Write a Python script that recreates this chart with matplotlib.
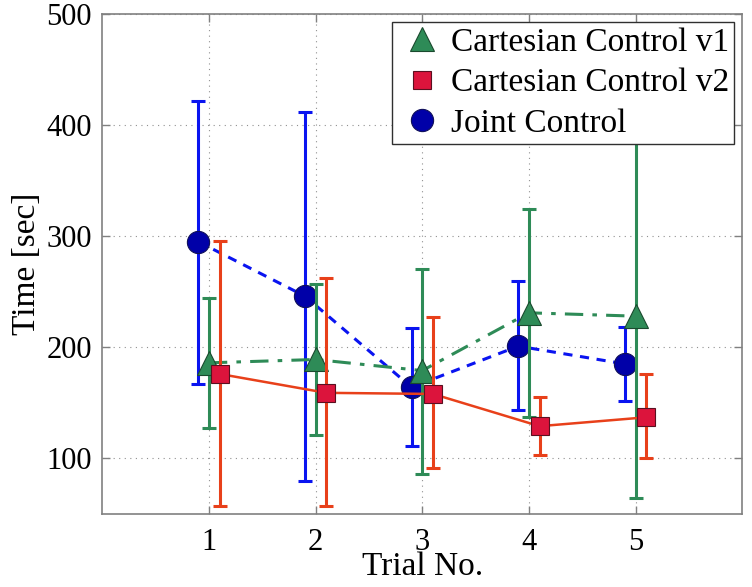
import numpy as np
import matplotlib
matplotlib.use('Agg')
import matplotlib.pyplot as plt

# Datos leídos da figura
trials = [1, 2, 3, 4, 5]

v1_mean = [186, 189, 179, 231, 228]
v1_low = [127, 121, 86, 137, 64]
v1_high = [244, 257, 270, 324, 392]

v2_mean = [176, 159, 158, 129, 137]
v2_low = [57, 57, 91, 103, 100]
v2_high = [296, 262, 227, 155, 176]

joint_mean = [295, 246, 164, 201, 185]
joint_low = [167, 80, 111, 144, 152]
joint_high = [422, 412, 217, 260, 218]

labels = ['Cartesian Control v1', 'Cartesian Control v2', 'Joint Control']

plt.rcParams['font.family'] = ['Liberation Serif', 'DejaVu Serif']

fig = plt.figure(figsize=(7.52, 5.87), dpi=100)
ax = fig.add_axes([0.136, 0.1244, 0.851, 0.852])

x = np.array(trials, dtype=float)


def yerr(mean, low, high):
    mean = np.array(mean)
    return [mean - np.array(low), np.array(high) - mean]


# Joint Control (azul, tracejado)
ax.errorbar(x - 0.1, joint_mean, yerr=yerr(joint_mean, joint_low, joint_high),
            fmt='none', ecolor='#0a14f0', elinewidth=2.2, capsize=5, capthick=2.2, zorder=2)
ax.plot(x - 0.1, joint_mean, linestyle='--', color='#0a14f0', linewidth=2.2,
        dashes=(3, 2.5), zorder=2)
h_joint, = ax.plot(x - 0.1, joint_mean, linestyle='none', marker='o', markersize=16,
                   markerfacecolor='#0000a8', markeredgecolor='#10105a',
                   markeredgewidth=0.8, zorder=3)

# Cartesian v1 (verde, traço-ponto)
ax.errorbar(x, v1_mean, yerr=yerr(v1_mean, v1_low, v1_high),
            fmt='none', ecolor='#2e8b57', elinewidth=2.2, capsize=5, capthick=2.2, zorder=4)
ax.plot(x, v1_mean, linestyle='-.', color='#2e8b57', linewidth=2.2,
        dashes=(6, 3, 1.5, 3), zorder=4)
h_v1, = ax.plot(x, v1_mean, linestyle='none', marker='^', markersize=17,
                markerfacecolor='#2e8b57', markeredgecolor='#1a4a2e',
                markeredgewidth=0.8, zorder=5)

# Cartesian v2 (vermelho, contínuo)
ax.errorbar(x + 0.1, v2_mean, yerr=yerr(v2_mean, v2_low, v2_high),
            fmt='none', ecolor='#e8401a', elinewidth=2.2, capsize=5, capthick=2.2, zorder=6)
ax.plot(x + 0.1, v2_mean, linestyle='-', color='#e8401a', linewidth=1.8, zorder=6)
h_v2, = ax.plot(x + 0.1, v2_mean, linestyle='none', marker='s', markersize=13,
                markerfacecolor='#dc143c', markeredgecolor='#5a1020',
                markeredgewidth=0.8, zorder=7)

ax.set_xlim(0, 6)
ax.set_ylim(50, 500)
ax.set_xticks(trials)
ax.set_yticks([100, 200, 300, 400, 500])

ax.grid(True, linestyle=(0, (1, 4)), color='#909090', linewidth=0.8)
ax.set_axisbelow(True)

for s in ax.spines.values():
    s.set_color('#808080')
    s.set_linewidth(1.2)

ax.tick_params(direction='in', length=6, width=1, color='#808080',
               top=True, right=True, labelsize=22)
ax.tick_params(axis='x', pad=10)
ax.tick_params(axis='y', pad=7.5)

ax.set_xlabel('Trial No.', fontsize=24, labelpad=-4)
ax.set_ylabel('Time [sec]', fontsize=24, labelpad=3)

leg = ax.legend([h_v1, h_v2, h_joint], labels, loc='upper right', fontsize=24,
                frameon=True, fancybox=False, edgecolor='#303030', framealpha=1,
                borderaxespad=0.25, handletextpad=0.1, handlelength=1.5,
                borderpad=0.15, labelspacing=0.3)
leg.get_frame().set_linewidth(1.0)
leg.set_zorder(10)

fig.savefig('out.png', dpi=100)
